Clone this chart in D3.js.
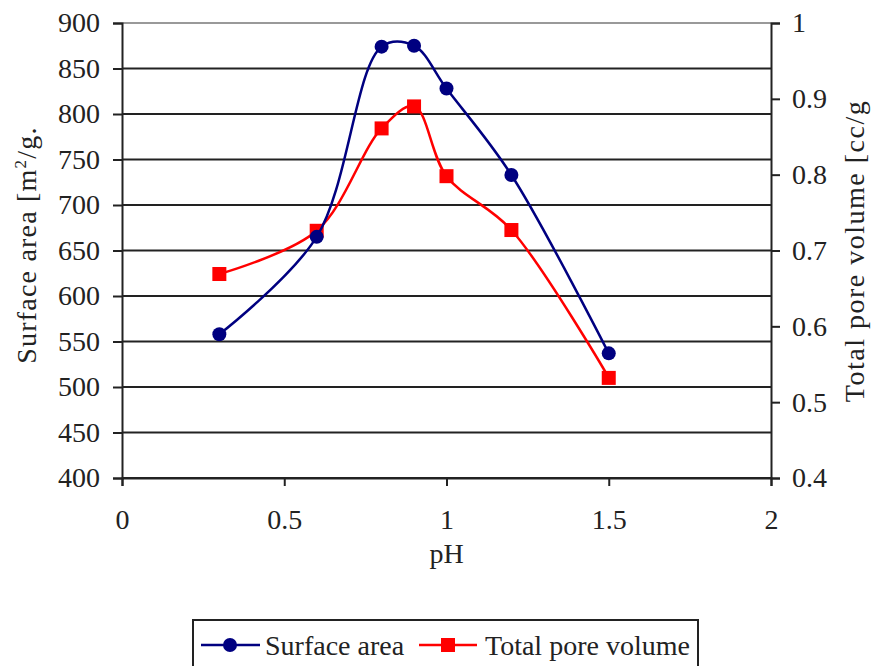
<!DOCTYPE html>
<html>
<head>
<meta charset="utf-8">
<script src="https://cdn.jsdelivr.net/npm/d3@7"></script>
<style>
  body { margin: 0; background: #fff; }
  text { font-family: "Liberation Serif", "Times New Roman", serif; fill: #222; }
</style>
</head>
<body>
<script>
// pH values and the two measured series
const ph = [0.3, 0.6, 0.8, 0.9, 1.0, 1.2, 1.5];
const surfaceArea = [558, 665, 874, 875, 828, 733, 537];
const poreVolume = [0.669, 0.726, 0.861, 0.890, 0.798, 0.727, 0.532];

const xTicks = [0, 0.5, 1, 1.5, 2];
const leftTicks = [400, 450, 500, 550, 600, 650, 700, 750, 800, 850, 900];
const rightTicks = [0.4, 0.5, 0.6, 0.7, 0.8, 0.9, 1];

const width = 880;
const height = 666;
const margin = { top: 23, right: 109, bottom: 188, left: 122 };

const svg = d3.select("body")
  .append("svg")
  .attr("width", width)
  .attr("height", height);

const xScale = d3.scaleLinear()
  .domain([0, 2])
  .range([margin.left, width - margin.right]);

const yLeft = d3.scaleLinear()
  .domain([400, 900])
  .range([height - margin.bottom, margin.top]);

const yRight = d3.scaleLinear()
  .domain([0.4, 1])
  .range([height - margin.bottom, margin.top]);

// gridlines
svg.append("g")
  .selectAll("line")
  .data(leftTicks)
  .enter()
  .append("line")
  .attr("x1", margin.left)
  .attr("x2", width - margin.right)
  .attr("y1", d => yLeft(d))
  .attr("y2", d => yLeft(d))
  .attr("stroke", d => d === 900 ? "#999" : "#222")
  .attr("stroke-width", 2);

// left axis
const leftAxis = svg.append("g")
  .attr("transform", `translate(${margin.left},0)`)
  .call(d3.axisLeft(yLeft).tickValues(leftTicks).tickSize(9).tickPadding(13));
leftAxis.selectAll("text").style("font-size", "28px");

// right axis
const rightAxis = svg.append("g")
  .attr("transform", `translate(${width - margin.right},0)`)
  .call(d3.axisRight(yRight).tickValues(rightTicks).tickFormat(d3.format("")).tickSize(9).tickPadding(12));
rightAxis.selectAll("text").style("font-size", "28px");

// bottom axis
const bottomAxis = svg.append("g")
  .attr("transform", `translate(0,${height - margin.bottom})`)
  .call(d3.axisBottom(xScale).tickValues(xTicks).tickFormat(d3.format("")).tickSize(8).tickPadding(23));
bottomAxis.selectAll("text").style("font-size", "28px");

svg.selectAll(".domain, .tick line").attr("stroke", "#222").attr("stroke-width", 2);

// axis titles
svg.append("text")
  .attr("transform", "rotate(-90)")
  .attr("x", -245)
  .attr("y", 36)
  .attr("text-anchor", "middle")
  .style("font-size", "28px")
  .style("letter-spacing", "1.2px")
  .html("Surface area [m<tspan dy='-10' font-size='17px'>2</tspan><tspan dy='10'>/g.</tspan>");

svg.append("text")
  .attr("transform", "rotate(-90)")
  .attr("x", -251)
  .attr("y", 864)
  .attr("text-anchor", "middle")
  .style("font-size", "28px")
  .style("letter-spacing", "1.5px")
  .text("Total pore volume [cc/g");

svg.append("text")
  .attr("x", xScale(1))
  .attr("y", 563)
  .attr("text-anchor", "middle")
  .style("font-size", "28px")
  .text("pH");

// lines
const areaData = ph.map((p, i) => ({ x: p, y: surfaceArea[i] }));
const poreData = ph.map((p, i) => ({ x: p, y: poreVolume[i] }));

const areaLine = d3.line()
  .x(d => xScale(d.x))
  .y(d => yLeft(d.y))
  .curve(d3.curveCatmullRom.alpha(0.5));

const poreLine = d3.line()
  .x(d => xScale(d.x))
  .y(d => yRight(d.y))
  .curve(d3.curveCatmullRom.alpha(0.5));

svg.append("path")
  .datum(poreData)
  .attr("d", poreLine)
  .attr("fill", "none")
  .attr("stroke", "#ff0000")
  .attr("stroke-width", 2.5);

svg.selectAll(".poreMark")
  .data(poreData)
  .enter()
  .append("rect")
  .attr("x", d => xScale(d.x) - 7)
  .attr("y", d => yRight(d.y) - 7)
  .attr("width", 14)
  .attr("height", 14)
  .attr("fill", "#ff0000");

svg.append("path")
  .datum(areaData)
  .attr("d", areaLine)
  .attr("fill", "none")
  .attr("stroke", "#000080")
  .attr("stroke-width", 2.5);

svg.selectAll(".areaMark")
  .data(areaData)
  .enter()
  .append("circle")
  .attr("cx", d => xScale(d.x))
  .attr("cy", d => yLeft(d.y))
  .attr("r", 7)
  .attr("fill", "#000080");

// legend
const legend = svg.append("g");
legend.append("rect")
  .attr("x", 193)
  .attr("y", 620)
  .attr("width", 505)
  .attr("height", 60)
  .attr("fill", "#fff")
  .attr("stroke", "#222")
  .attr("stroke-width", 2);

legend.append("line")
  .attr("x1", 201).attr("x2", 260)
  .attr("y1", 645).attr("y2", 645)
  .attr("stroke", "#000080").attr("stroke-width", 2.5);
legend.append("circle")
  .attr("cx", 230).attr("cy", 645).attr("r", 7)
  .attr("fill", "#000080");
legend.append("text")
  .attr("x", 265).attr("y", 655)
  .style("font-size", "28px")
  .text("Surface area");

legend.append("line")
  .attr("x1", 419).attr("x2", 477)
  .attr("y1", 645).attr("y2", 645)
  .attr("stroke", "#ff0000").attr("stroke-width", 2.5);
legend.append("rect")
  .attr("x", 441).attr("y", 638).attr("width", 14).attr("height", 14)
  .attr("fill", "#ff0000");
legend.append("text")
  .attr("x", 485).attr("y", 655)
  .style("font-size", "28px")
  .text("Total pore volume");
</script>
</body>
</html>
